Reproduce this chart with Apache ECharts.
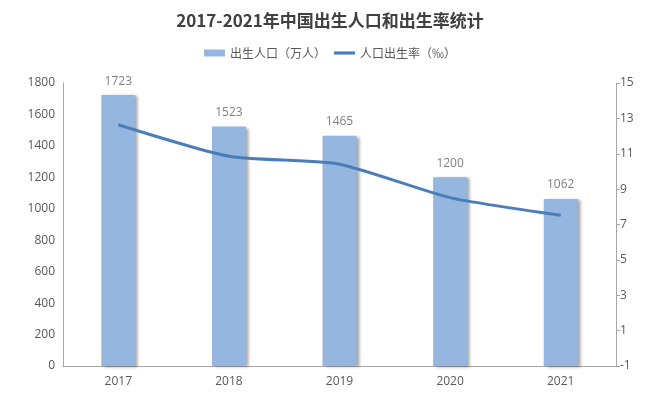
<!DOCTYPE html>
<html><head><meta charset="utf-8">
<script src="https://cdn.jsdelivr.net/npm/echarts@6/dist/echarts.min.js"></script>
<style>html,body{margin:0;padding:0;background:#fff}#c{width:660px;height:402px}</style>
</head><body><div id="c"></div>
<script>
const categories = ['2017','2018','2019','2020','2021'];
const births = [1723, 1523, 1465, 1200, 1062];
const birthRate = [12.64, 10.86, 10.41, 8.52, 7.52];
const leftTicks = {min: 0, max: 1800, interval: 200};
const rightTicks = {min: -1, max: 15, interval: 2};

const font = '"Noto Sans CJK SC", "Noto Sans", sans-serif';
const numFont = '"Open Sans", "Noto Sans", sans-serif';
const chart = echarts.init(document.getElementById('c'));
chart.setOption({
  animation: false,
  textStyle: {fontFamily: font},
  title: {
    text: '2017-2021年中国出生人口和出生率统计',
    left: 'center', top: 7,
    textStyle: {fontSize: 17, fontWeight: 'bold', color: '#404040', fontFamily: font}
  },
  legend: {
    top: 42, left: 'center', itemGap: 8,
    textStyle: {fontSize: 12, color: '#595959', fontFamily: font},
    data: [
      {name: '出生人口（万人）', icon: 'rect', itemStyle: {color: '#95b6df'}},
      {name: '人口出生率（‰）', icon: 'path://M0,0H20V3H0Z', itemStyle: {color: '#4a7ebb'}}
    ],
    itemWidth: 21, itemHeight: 7
  },
  grid: {left: 63, right: 44, top: 83, bottom: 36},
  xAxis: {
    type: 'category', data: categories,
    axisLine: {lineStyle: {color: '#a6a6a6'}},
    axisTick: {show: false},
    axisLabel: {color: '#595959', fontSize: 12, margin: 10, fontFamily: numFont}
  },
  yAxis: [
    {
      type: 'value', min: leftTicks.min, max: leftTicks.max, interval: leftTicks.interval,
      axisLine: {show: true, lineStyle: {color: '#a6a6a6'}},
      axisTick: {show: false},
      splitLine: {show: false},
      axisLabel: {color: '#595959', fontSize: 12, margin: 8, fontFamily: numFont, formatter: v => String(v)}
    },
    {
      type: 'value', min: rightTicks.min, max: rightTicks.max, interval: rightTicks.interval,
      position: 'right',
      axisLine: {show: true, lineStyle: {color: '#a6a6a6'}},
      axisTick: {show: true, length: 4, lineStyle: {color: '#a6a6a6'}},
      splitLine: {show: false},
      axisLabel: {color: '#595959', fontSize: 12, margin: 4, fontFamily: numFont}
    }
  ],
  series: [
    {
      name: '出生人口（万人）', type: 'bar', data: births, barWidth: 34,
      itemStyle: {color: '#95b6df', shadowColor: 'rgba(0,0,0,0.35)', shadowOffsetX: 3, shadowOffsetY: 1, shadowBlur: 3},
      label: {show: true, position: 'top', distance: 8, color: '#7f7f7f', fontSize: 12, fontFamily: numFont}
    },
    {
      name: '人口出生率（‰）', type: 'line', yAxisIndex: 1, data: birthRate,
      smooth: 0.2, symbol: 'none',
      lineStyle: {color: '#4a7ebb', width: 3},
      itemStyle: {color: '#4a7ebb'}
    }
  ]
});
</script></body></html>
